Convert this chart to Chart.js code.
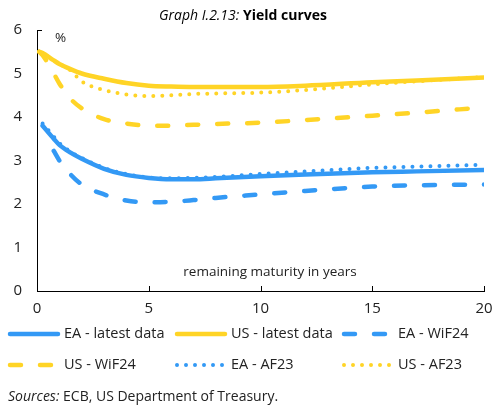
<!DOCTYPE html>
<html lang="en">
<head>
  <meta charset="UTF-8">
  <title>Yield curves</title>
  <script src="https://cdn.jsdelivr.net/npm/chart.js"></script>
  <style>
    html, body { margin: 0; padding: 0; background: #fff; }
    #wrap { width: 494px; height: 405px; }
  </style>
</head>
<body>
  <div id="wrap"><canvas id="yieldChart"></canvas></div>
  <script>
    // maturities in years (x axis)
    const maturities = [0.1, 0.25, 0.75, 1, 1.5, 2, 3, 4, 5, 6, 7, 8, 10, 12, 15, 17, 20];

    // yields in %
    const eaLatest = [null, 3.80, 3.50, 3.36, 3.18, 3.04, 2.81, 2.67, 2.60, 2.57, 2.57, 2.59, 2.64, 2.68, 2.73, 2.75, 2.78];
    const usLatest = [5.50, 5.47, 5.30, 5.22, 5.10, 5.00, 4.88, 4.78, 4.72, 4.70, 4.69, 4.69, 4.69, 4.72, 4.80, 4.84, 4.91];
    const eaWiF24 = [null, null, 3.22, 3.00, 2.68, 2.45, 2.22, 2.08, 2.04, 2.05, 2.09, 2.14, 2.22, 2.30, 2.40, 2.43, 2.45];
    const usWiF24 = [5.50, 5.42, 5.00, 4.77, 4.42, 4.20, 3.95, 3.85, 3.80, 3.80, 3.82, 3.84, 3.87, 3.93, 4.03, 4.10, 4.22];
    const eaAF23 = [null, 3.85, 3.55, 3.40, 3.20, 3.06, 2.83, 2.69, 2.61, 2.59, 2.60, 2.62, 2.69, 2.75, 2.83, 2.86, 2.90];
    const usAF23 = [5.50, 5.47, 5.30, 5.22, 5.07, 4.82, 4.62, 4.52, 4.48, 4.50, 4.53, 4.54, 4.56, 4.62, 4.75, 4.82, 4.92];

    const xTicks = [0, 5, 10, 15, 20];

    const BLUE = '#3399f5';
    const YELLOW = '#ffd426';
    const FONT = '"Open Sans", sans-serif';

    function pts(values) {
      return maturities.map((m, i) => ({ x: m, y: values[i] }));
    }

    const solid = { borderWidth: 4.5, borderDash: [], borderCapStyle: 'round' };
    const dashed = { borderWidth: 4.5, borderDash: [11, 19], borderCapStyle: 'round' };
    const dotted = { borderWidth: 4, borderDash: [0, 9], borderCapStyle: 'round' };

    const datasets = [
      { label: 'EA - latest data', data: pts(eaLatest), borderColor: BLUE, ...solid },
      { label: 'US - latest data', data: pts(usLatest), borderColor: YELLOW, ...solid },
      { label: 'EA - WiF24', data: pts(eaWiF24), borderColor: BLUE, ...dashed },
      { label: 'US - WiF24', data: pts(usWiF24), borderColor: YELLOW, ...dashed },
      { label: 'EA - AF23', data: pts(eaAF23), borderColor: BLUE, ...dotted },
      { label: 'US - AF23', data: pts(usAF23), borderColor: YELLOW, ...dotted }
    ];

    // legend columns / rows (positions of the sample lines)
    const legendCols = [8, 175, 342];
    const legendRows = [334, 365];

    const extras = {
      id: 'extras',
      afterDraw(chart) {
        const ctx = chart.ctx;
        const xs = chart.scales.x, ys = chart.scales.y;
        const area = chart.chartArea;
        ctx.save();

        // inside ticks
        ctx.strokeStyle = '#000';
        ctx.lineWidth = 1;
        ctx.setLineDash([]);
        ctx.beginPath();
        xTicks.slice(1).forEach(v => {
          const px = Math.round(xs.getPixelForValue(v)) + 0.5;
          ctx.moveTo(px, area.bottom);
          ctx.lineTo(px, area.bottom - 5);
        });
        const topY = Math.round(ys.getPixelForValue(6)) + 0.5;
        ctx.moveTo(area.left, topY);
        ctx.lineTo(area.left + 5, topY);
        ctx.stroke();

        // title
        ctx.fillStyle = '#000';
        ctx.textBaseline = 'middle';
        const t1 = 'Graph I.2.13: ';
        const t2 = 'Yield curves';
        ctx.font = 'italic 14px ' + FONT;
        const w1 = ctx.measureText(t1).width;
        ctx.font = 'bold 14px ' + FONT;
        const w2 = ctx.measureText(t2).width;
        let tx = 243 - (w1 + w2) / 2;
        ctx.textAlign = 'left';
        ctx.font = 'italic 14px ' + FONT;
        ctx.fillText(t1, tx, 16);
        ctx.font = 'bold 14px ' + FONT;
        ctx.fillText(t2, tx + w1, 16);

        // unit and axis note inside plot
        ctx.font = '13.5px ' + FONT;
        ctx.fillStyle = '#222';
        ctx.fillText('%', 55, 38);
        ctx.textAlign = 'center';
        ctx.fillText('remaining maturity in years', 270, 272);

        // legend
        ctx.textAlign = 'left';
        ctx.font = '14.5px ' + FONT;
        chart.data.datasets.forEach((ds, i) => {
          const cx = legendCols[i % 3];
          const cy = legendRows[Math.floor(i / 3)];
          ctx.strokeStyle = ds.borderColor;
          ctx.lineWidth = ds.borderWidth;
          ctx.lineCap = ds.borderCapStyle;
          ctx.setLineDash(ds.borderDash);
          ctx.beginPath();
          ctx.moveTo(cx + 2, cy);
          ctx.lineTo(cx + 50, cy);
          ctx.stroke();
          ctx.setLineDash([]);
          ctx.fillStyle = '#222';
          ctx.fillText(ds.label, cx + 56, cy);
        });

        // sources
        ctx.font = 'italic 14px ' + FONT;
        const s1 = 'Sources:';
        ctx.fillText(s1, 8, 397);
        const sw = ctx.measureText(s1 + ' ').width;
        ctx.font = '14px ' + FONT;
        ctx.fillText('ECB, US Department of Treasury.', 8 + sw, 397);

        ctx.restore();
      }
    };

    new Chart(document.getElementById('yieldChart'), {
      type: 'line',
      data: { datasets },
      options: {
        responsive: true,
        maintainAspectRatio: false,
        animation: false,
        layout: { padding: { top: 30, right: 10, left: 0, bottom: 0 } },
        elements: {
          point: { radius: 0 },
          line: { cubicInterpolationMode: 'monotone', fill: false }
        },
        plugins: {
          legend: { display: false },
          tooltip: { enabled: false }
        },
        scales: {
          x: {
            type: 'linear',
            min: 0,
            max: 20,
            afterFit: s => { s.height = 114; s.paddingRight = 0; s.paddingLeft = 0; },
            afterBuildTicks: s => { s.ticks = xTicks.map(v => ({ value: v })); },
            grid: { display: false, drawTicks: false },
            border: { display: true, color: '#000', width: 1 },
            ticks: { padding: 9, color: '#222', font: { size: 15, family: FONT }, maxRotation: 0 }
          },
          y: {
            min: 0,
            max: 6,
            afterFit: s => { s.width = 37; s.paddingTop = 0; s.paddingBottom = 0; },
            grid: { display: false, drawTicks: false },
            border: { display: true, color: '#000', width: 1 },
            ticks: { stepSize: 1, padding: 15, color: '#222', font: { size: 15, family: FONT } }
          }
        }
      },
      plugins: [extras]
    });
  </script>
</body>
</html>
